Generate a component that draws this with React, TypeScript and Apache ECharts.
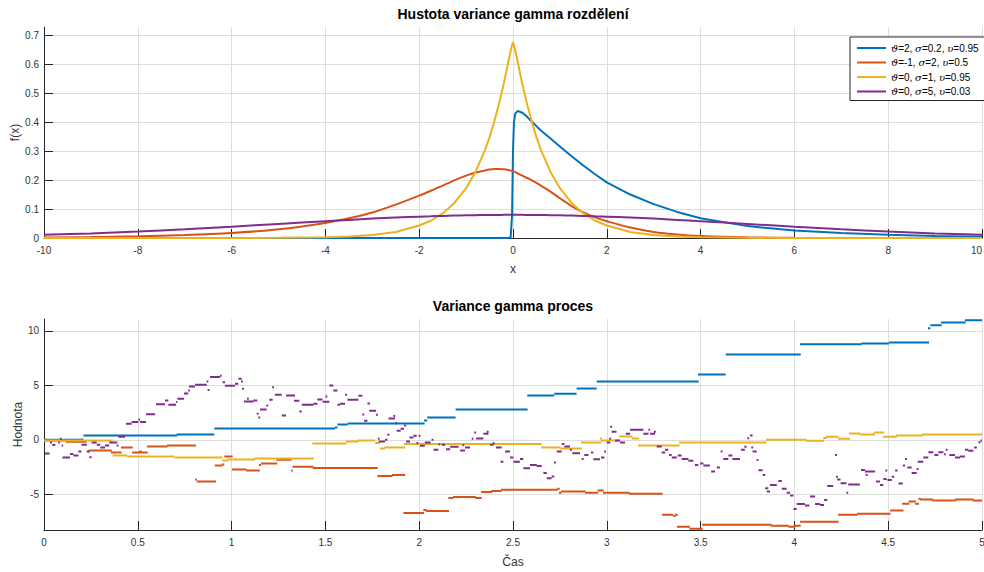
import React, { useEffect, useRef } from "react";
import * as echarts from "echarts";

// ---------- Top chart: densities ----------
const densityX = [-10, -9, -8, -7, -6, -5, -4, -3.5, -3, -2.5, -2, -1.75, -1.5, -1.25, -1, -0.8, -0.6, -0.5, -0.4, -0.3, -0.2, -0.1, -0.05, -0.02, 0, 0.02, 0.05, 0.1, 0.2, 0.3, 0.4, 0.5, 0.6, 0.8, 1, 1.25, 1.5, 1.75, 2, 2.5, 3, 3.5, 4, 5, 6, 7, 8, 9, 10];

const densityBlue = [0, 0, 0, 0, 0, 0, 0, 0, 0, 0, 0, 0, 0, 0, 0, 0, 0, 0, 0, 0, 0, 0, 0.002, 0.08, 0.3, 0.4, 0.43, 0.438, 0.432, 0.418, 0.402, 0.386, 0.37, 0.343, 0.316, 0.282, 0.25, 0.22, 0.192, 0.15, 0.117, 0.09, 0.068, 0.041, 0.026, 0.017, 0.011, 0.007, 0.0045];

const densityOrange = [0.002, 0.0035, 0.006, 0.01, 0.017, 0.03, 0.052, 0.068, 0.088, 0.115, 0.146, 0.163, 0.181, 0.199, 0.215, 0.226, 0.233, 0.236, 0.238, 0.238, 0.237, 0.235, 0.233, 0.231, 0.23, 0.229, 0.227, 0.223, 0.215, 0.207, 0.199, 0.19, 0.18, 0.16, 0.137, 0.11, 0.088, 0.071, 0.058, 0.036, 0.021, 0.012, 0.0068, 0.0022, 0.0007, 0.0002, 0.0001, 0, 0];

const densityYellow = [0, 0, 0, 0, 0.0001, 0.0006, 0.0025, 0.005, 0.0102, 0.0207, 0.043, 0.0596, 0.0848, 0.121, 0.172, 0.228, 0.302, 0.348, 0.401, 0.462, 0.53, 0.608, 0.645, 0.665, 0.676, 0.665, 0.645, 0.608, 0.53, 0.462, 0.401, 0.348, 0.302, 0.228, 0.172, 0.121, 0.0848, 0.0596, 0.043, 0.0207, 0.0102, 0.005, 0.0025, 0.0006, 0.0001, 0, 0, 0, 0];

const densityPurple = [0.0108, 0.0158, 0.0222, 0.03, 0.0389, 0.0484, 0.058, 0.0624, 0.0669, 0.0705, 0.0737, 0.0749, 0.0762, 0.0773, 0.0782, 0.0788, 0.0792, 0.0794, 0.0795, 0.0797, 0.0798, 0.0798, 0.0798, 0.0798, 0.0798, 0.0798, 0.0798, 0.0798, 0.0798, 0.0797, 0.0795, 0.0794, 0.0792, 0.0788, 0.0782, 0.0773, 0.0762, 0.0749, 0.0737, 0.0705, 0.0669, 0.0624, 0.058, 0.0484, 0.0389, 0.03, 0.0222, 0.0158, 0.0108];

const topYTicks = [0, 0.1, 0.2, 0.3, 0.4, 0.5, 0.6, 0.7];

const legendNames = ["ϑ=2, σ=0.2, υ=0.95", "ϑ=-1, σ=2, υ=0.5", "ϑ=0, σ=1, υ=0.95", "ϑ=0, σ=5, υ=0.03"];
const colors = ["#0072BD", "#D95319", "#EDB120", "#7E2F8E"];

// ---------- Bottom chart: processes, [tStart, tEnd, value] ----------
const blueSteps = [
  [0, 0.197, 0.0], [0.197, 0.21, 0.03], [0.21, 0.711, 0.4], [0.707, 0.908, 0.49],
  [0.908, 1.551, 1.04], [1.551, 1.564, 1.13], [1.564, 1.619, 1.41], [1.619, 2.029, 1.5],
  [2.026, 2.043, 1.78], [2.043, 2.194, 2.05], [2.194, 2.578, 2.79], [2.576, 2.72, 4.08],
  [2.72, 2.839, 4.23], [2.839, 2.946, 4.72], [2.946, 3.49, 5.37], [3.486, 3.634, 6.01],
  [3.634, 4.034, 7.85], [4.03, 4.358, 8.77], [4.358, 4.504, 8.86], [4.504, 4.718, 8.95],
  [4.712, 4.725, 10.24], [4.725, 4.785, 10.52], [4.781, 4.913, 10.79], [4.909, 5.0, 10.98],
];

const orangeSteps = [
  [0, 0.117, -0.05], [0.117, 0.227, -0.18], [0.233, 0.242, -1.07], [0.238, 0.361, -0.98],
  [0.357, 0.414, -1.17], [0.41, 0.473, -0.71], [0.469, 0.553, -1.17], [0.508, 0.521, -1.07],
  [0.549, 0.659, -0.61], [0.656, 0.81, -0.52], [0.805, 0.814, -3.65], [0.814, 0.917, -3.83],
  [0.911, 0.952, -2.36], [0.949, 0.961, -2.27], [0.961, 1.006, -1.53], [1.002, 1.08, -2.73],
  [1.077, 1.151, -2.82], [1.146, 1.157, -2.3], [1.157, 1.244, -2.18], [1.238, 1.32, -1.83],
  [1.317, 1.326, -2.82], [1.324, 1.436, -2.48], [1.432, 1.779, -2.58], [1.777, 1.858, -3.31],
  [1.855, 1.925, -3.22], [1.916, 2.026, -6.72], [2.022, 2.04, -6.44], [2.036, 2.159, -6.53],
  [2.155, 2.182, -5.34], [2.18, 2.303, -5.25], [2.298, 2.333, -5.34], [2.33, 2.388, -4.79],
  [2.383, 2.44, -4.69], [2.436, 2.738, -4.58], [2.736, 2.749, -4.48], [2.745, 2.759, -4.85],
  [2.756, 2.887, -4.75], [2.884, 2.955, -4.85], [2.951, 2.983, -4.66], [2.98, 3.122, -4.85],
  [3.118, 3.298, -4.94], [3.294, 3.355, -6.87], [3.355, 3.367, -6.99], [3.364, 3.378, -6.87],
  [3.374, 3.443, -7.98], [3.44, 3.511, -8.16], [3.508, 3.879, -7.79], [3.875, 3.971, -7.88],
  [3.968, 4.004, -7.98], [4.0, 4.034, -7.88], [4.03, 4.236, -7.52], [4.233, 4.337, -6.87],
  [4.334, 4.513, -6.78], [4.51, 4.582, -6.5], [4.574, 4.613, -5.86], [4.609, 4.647, -5.67],
  [4.643, 4.664, -5.86], [4.661, 4.673, -5.4], [4.67, 4.739, -5.49], [4.735, 4.86, -5.58],
  [4.856, 4.954, -5.49], [4.95, 5.0, -5.58],
];

const yellowSteps = [
  [0, 0.366, -0.05], [0.366, 0.444, -1.44], [0.444, 0.695, -1.53], [0.695, 0.952, -1.63],
  [0.949, 0.979, -1.9], [0.976, 1.125, -1.81], [1.121, 1.439, -1.72], [1.43, 1.613, -0.34],
  [1.61, 1.676, -0.15], [1.672, 1.765, -0.06], [1.765, 1.791, -0.3], [1.791, 1.818, -0.8],
  [1.814, 1.925, -0.71], [1.919, 2.653, -0.37], [2.649, 2.754, -0.71], [2.751, 2.866, -0.8],
  [2.862, 2.969, -0.25], [2.964, 2.973, 0.12], [2.969, 3.066, -0.06], [3.066, 3.137, 0.31],
  [3.133, 3.172, 0.12], [3.166, 3.388, -0.52], [3.385, 3.852, -0.25], [3.849, 4.065, 0.0],
  [4.062, 4.158, -0.09], [4.154, 4.172, 0.18], [4.168, 4.236, 0.28], [4.233, 4.297, 0.09],
  [4.291, 4.35, 0.58], [4.346, 4.43, 0.49], [4.424, 4.478, 0.67], [4.472, 4.545, 0.28],
  [4.541, 4.684, 0.4], [4.68, 5.0, 0.49],
];

const purpleSteps = [
  [0.005, 0.03, -1.26], [0.032, 0.042, -0.25], [0.044, 0.06, -0.48], [0.076, 0.085, -0.25],
  [0.085, 0.094, 0.09], [0.094, 0.102, -0.52], [0.098, 0.139, -1.63], [0.139, 0.156, -1.3],
  [0.156, 0.183, -1.44], [0.183, 0.2, -1.07], [0.2, 0.228, -0.46], [0.228, 0.242, -1.07],
  [0.242, 0.254, -1.6], [0.254, 0.281, -0.25], [0.281, 0.3, -0.46], [0.3, 0.325, -0.71],
  [0.325, 0.348, -0.52], [0.348, 0.391, -0.25], [0.387, 0.397, -0.52], [0.396, 0.432, 0.28],
  [0.437, 0.467, 1.47], [0.467, 0.503, 1.63], [0.503, 0.512, 1.84], [0.512, 0.544, 1.63],
  [0.544, 0.592, 2.36], [0.597, 0.645, 3.28], [0.645, 0.663, 3.62], [0.663, 0.704, 3.22],
  [0.704, 0.711, 3.47], [0.711, 0.746, 3.77], [0.746, 0.769, 4.26], [0.769, 0.778, 4.54],
  [0.773, 0.805, 4.91], [0.805, 0.867, 5.06], [0.867, 0.876, 5.37], [0.872, 0.882, 4.57],
  [0.885, 0.938, 5.77], [0.938, 0.947, 5.89], [0.952, 0.965, 5.28], [0.965, 1.018, 4.97],
  [1.018, 1.036, 5.15], [1.036, 1.054, 5.61], [1.05, 1.06, 5.37], [1.056, 1.066, 4.69],
  [1.066, 1.116, 3.53], [1.082, 1.092, 3.77], [1.116, 1.137, 3.62], [1.134, 1.144, 2.39],
  [1.142, 1.152, 2.06], [1.151, 1.187, 2.79], [1.185, 1.195, 3.16], [1.201, 1.219, 3.68],
  [1.216, 1.226, 4.82], [1.231, 1.267, 4.14], [1.267, 1.29, 2.24], [1.29, 1.338, 4.08],
  [1.333, 1.361, 3.59], [1.361, 1.374, 2.61], [1.374, 1.436, 3.22], [1.436, 1.457, 3.31],
  [1.457, 1.485, 3.71], [1.485, 1.521, 3.5], [1.5, 1.51, 3.99], [1.521, 1.542, 5.0],
  [1.542, 1.564, 4.54], [1.564, 1.578, 3.22], [1.578, 1.605, 3.31], [1.605, 1.615, 4.14],
  [1.617, 1.676, 3.68], [1.676, 1.697, 4.05], [1.697, 1.707, 2.33], [1.706, 1.724, 1.75],
  [1.724, 1.738, 3.34], [1.734, 1.77, 2.67], [1.77, 1.78, 2.3], [1.779, 1.789, 0.09],
  [1.784, 1.818, -0.15], [1.818, 1.83, 0.0], [1.83, 1.841, 0.46], [1.836, 1.871, 1.96],
  [1.862, 1.872, 2.2], [1.872, 1.882, 1.53], [1.88, 1.901, 0.83], [1.901, 1.919, 1.01],
  [1.919, 1.93, 1.32], [1.93, 1.951, -0.15], [1.948, 1.969, 0.21], [1.969, 1.987, 0.37],
  [1.985, 1.995, -0.28], [1.997, 2.007, 0.37], [2.004, 2.03, -0.55], [2.03, 2.061, -0.25],
  [2.066, 2.076, 0.0], [2.076, 2.102, -0.92], [2.102, 2.112, -0.4], [2.12, 2.138, -0.46],
  [2.143, 2.165, -0.86], [2.165, 2.21, -0.64], [2.218, 2.244, -0.98], [2.23, 2.24, -0.49],
  [2.244, 2.271, -0.71], [2.28, 2.289, 0.09], [2.293, 2.303, 0.67], [2.303, 2.342, 0.12],
  [2.342, 2.369, 0.55], [2.36, 2.37, 0.74], [2.378, 2.396, -0.46], [2.392, 2.402, -0.31],
  [2.409, 2.44, -0.71], [2.434, 2.449, -2.0], [2.458, 2.484, -1.07], [2.484, 2.502, -1.63],
  [2.502, 2.537, -2.0], [2.537, 2.555, -1.75], [2.555, 2.591, -2.6], [2.591, 2.627, -2.3],
  [2.627, 2.653, -2.4], [2.662, 2.68, -3.04], [2.68, 2.706, -3.53], [2.706, 2.72, -3.37],
  [2.719, 2.729, -2.09], [2.733, 2.76, -1.07], [2.76, 2.774, -0.37], [2.774, 2.804, -0.61],
  [2.804, 2.814, -0.92], [2.816, 2.857, -1.23], [2.866, 2.876, -1.75], [2.88, 2.902, -1.38],
  [2.916, 2.928, -1.17], [2.928, 2.964, -1.78], [2.969, 2.987, -1.63], [2.986, 2.996, -1.07],
  [3.0, 3.018, -0.25], [3.013, 3.023, 0.09], [3.018, 3.028, 1.2], [3.026, 3.052, 0.74],
  [3.044, 3.071, -0.06], [3.071, 3.097, -0.25], [3.101, 3.124, 0.55], [3.124, 3.195, 0.92],
  [3.195, 3.222, 0.55], [3.222, 3.231, 0.92], [3.231, 3.257, 0.55], [3.251, 3.261, 0.74],
  [3.266, 3.293, -0.61], [3.293, 3.311, -1.17], [3.311, 3.328, -0.92], [3.332, 3.346, -1.38],
  [3.346, 3.373, -1.63], [3.378, 3.399, -1.44], [3.399, 3.435, -1.75], [3.435, 3.461, -1.93],
  [3.47, 3.488, -2.3], [3.497, 3.515, -2.18], [3.515, 3.55, -2.36], [3.556, 3.577, -2.91],
  [3.586, 3.603, -2.55], [3.607, 3.617, -1.07], [3.621, 3.648, -1.75], [3.648, 3.669, -1.44],
  [3.669, 3.71, -1.75], [3.715, 3.736, -0.92], [3.733, 3.745, -0.64], [3.749, 3.759, 0.15],
  [3.763, 3.777, 0.4], [3.77, 3.78, -0.71], [3.777, 3.799, -1.07], [3.798, 3.808, -1.84],
  [3.808, 3.831, -2.79], [3.831, 3.844, -3.22], [3.844, 3.861, -4.45], [3.853, 3.87, -4.75],
  [3.87, 3.906, -4.14], [3.915, 3.933, -3.77], [3.933, 3.959, -4.48], [3.959, 3.977, -4.85],
  [3.977, 3.995, -5.12], [3.995, 4.012, -6.35], [4.012, 4.056, -5.89], [4.056, 4.08, -6.04],
  [4.083, 4.11, -5.21], [4.11, 4.136, -5.89], [4.136, 4.158, -5.98], [4.158, 4.175, -5.52],
  [4.175, 4.207, -4.23], [4.217, 4.227, -1.38], [4.222, 4.232, -3.4], [4.228, 4.246, -3.65],
  [4.246, 4.278, -3.99], [4.277, 4.287, -4.85], [4.287, 4.349, -4.11], [4.355, 4.376, -2.76],
  [4.376, 4.43, -2.91], [4.38, 4.39, -3.22], [4.435, 4.456, -3.83], [4.456, 4.474, -4.14],
  [4.474, 4.492, -3.59], [4.485, 4.495, -2.82], [4.496, 4.519, -3.68], [4.519, 4.532, -3.4],
  [4.537, 4.55, -2.82], [4.555, 4.578, -4.02], [4.578, 4.59, -2.36], [4.59, 4.6, -1.75],
  [4.602, 4.625, -2.55], [4.625, 4.652, -3.04], [4.652, 4.662, -2.67], [4.657, 4.687, -2.0],
  [4.687, 4.714, -1.63], [4.714, 4.74, -1.13], [4.746, 4.767, -1.38], [4.767, 4.794, -1.13],
  [4.797, 4.807, -1.32], [4.807, 4.817, -0.92], [4.826, 4.856, -1.38], [4.856, 4.883, -1.63],
  [4.883, 4.909, -1.53], [4.909, 4.927, -0.92], [4.927, 4.954, -1.01], [4.958, 4.972, -0.71],
  [4.981, 4.993, -0.21], [4.993, 5.0, -0.06],
];

const bottomYTicks = [-5, 0, 5, 10];

const zipXY = (xs: number[], ys: number[]) => xs.map((x, i) => [x, ys[i]]);
const segs = (list: number[][]) => {
  const out: any[] = [];
  for (const [a, b, v] of list) {
    out.push([a, v], [b, v], [b, null]);
  }
  return out;
};

const FONT = "'Liberation Sans', Arial, Helvetica, sans-serif";
const AXIS = "#262626";
const GRID = "#dedede";

function axisCommon() {
  return {
    axisLine: { show: true, onZero: false, lineStyle: { color: AXIS, width: 1 } },
    axisTick: { show: true, inside: true, length: 9, lineStyle: { color: AXIS } },
    splitLine: { show: true, lineStyle: { color: GRID, width: 1 } },
    axisLabel: { color: "#333", fontSize: 10, fontFamily: FONT },
    nameTextStyle: { color: "#333", fontSize: 12, fontFamily: FONT },
    nameMoveOverlap: false,
  };
}

export default function App() {
  const ref = useRef<HTMLDivElement>(null);
  useEffect(() => {
    if (!ref.current) return;
    const chart = echarts.init(ref.current, null, { renderer: "svg" });
    const c = axisCommon();
    const topData = [densityBlue, densityOrange, densityYellow, densityPurple];
    const topSmooth = [false, 0.3, false, 0.3];
    const botData = [blueSteps, orangeSteps, yellowSteps, purpleSteps];
    const option: any = {
      animation: false,
      textStyle: { fontFamily: FONT },
      title: [
        { text: "Hustota variance gamma rozdělení", left: 513, top: 7, textAlign: "center", padding: 0,
          textStyle: { fontSize: 14, fontWeight: "bold", color: "#000", fontFamily: FONT } },
        { text: "Variance gamma proces", left: 513, top: 299, textAlign: "center", padding: 0,
          textStyle: { fontSize: 14, fontWeight: "bold", color: "#000", fontFamily: FONT } },
      ],
      legend: {
        data: legendNames,
        left: 850, top: 37, orient: "vertical",
        icon: "rect", itemWidth: 29, itemHeight: 2, itemGap: 2.5,
        padding: [5, 8, 3, 7],
        borderColor: AXIS, borderWidth: 1, backgroundColor: "#fff",
        formatter: (n: string) => n.replace(/([ϑσυ])/g, "{g|$1}"),
        textStyle: {
          fontSize: 10, color: "#000", fontFamily: FONT, lineHeight: 12,
          rich: { g: { fontSize: 10, fontStyle: "italic", fontFamily: "'DejaVu Serif', serif", color: "#000", lineHeight: 12 } },
        },
      },
      grid: [
        { left: 44, right: 2, top: 27, bottom: 334, outerBoundsMode: "none", containLabel: false },
        { left: 44, right: 2, top: 319, bottom: 42, outerBoundsMode: "none", containLabel: false },
      ],
      xAxis: [
        { ...c, type: "value", gridIndex: 0, min: -10, max: 10, interval: 2,
          axisLabel: { ...c.axisLabel, margin: 7, alignMaxLabel: "right" },
          name: "x", nameLocation: "middle", nameGap: 25 },
        { ...c, type: "value", gridIndex: 1, min: 0, max: 5, interval: 0.5,
          axisLabel: { ...c.axisLabel, margin: 7 },
          name: "Čas", nameLocation: "middle", nameGap: 26 },
      ],
      yAxis: [
        { ...c, type: "value", gridIndex: 0, min: 0, max: 0.728,
          axisTick: { ...c.axisTick, customValues: topYTicks },
          axisLabel: { ...c.axisLabel, margin: 5, customValues: topYTicks },
          name: "f(x)", nameLocation: "middle", nameGap: 23 },
        { ...c, type: "value", gridIndex: 1, min: -8.28, max: 11.1,
          axisTick: { ...c.axisTick, customValues: bottomYTicks },
          axisLabel: { ...c.axisLabel, margin: 5, customValues: bottomYTicks },
          name: "Hodnota", nameLocation: "middle", nameGap: 20 },
      ],
      series: [
        ...topData.map((d, i) => ({
          name: legendNames[i], type: "line", xAxisIndex: 0, yAxisIndex: 0,
          data: zipXY(densityX, d), showSymbol: false, symbol: "none",
          smooth: topSmooth[i],
          lineStyle: { width: 2, color: colors[i] }, itemStyle: { color: colors[i] },
          z: 2 + i,
        })),
        ...botData.map((d, i) => ({
          name: "proces " + (i + 1), type: "line", xAxisIndex: 1, yAxisIndex: 1,
          data: segs(d), showSymbol: false, symbol: "none", connectNulls: false,
          lineStyle: { width: 2, color: colors[i], cap: "butt" }, itemStyle: { color: colors[i] },
          z: 2 + i,
        })),
      ],
    };
    chart.setOption(option);
    return () => chart.dispose();
  }, []);
  return <div ref={ref} style={{ position: "absolute", left: 0, top: 0, width: 984, height: 572 }} />;
}
